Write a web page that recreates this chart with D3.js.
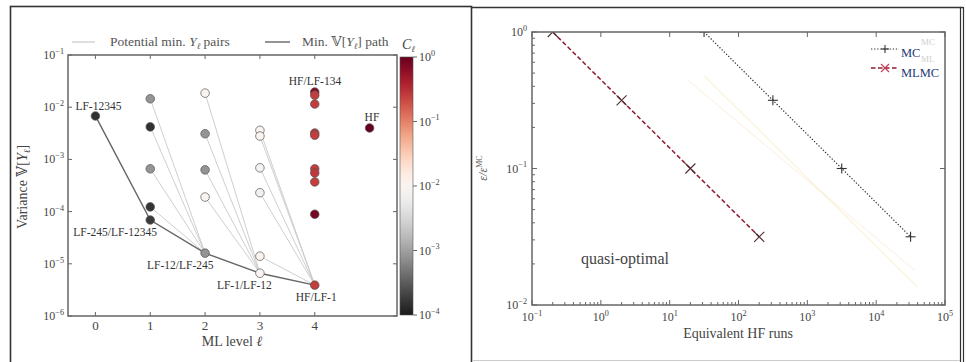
<!DOCTYPE html>
<html>
<head>
<meta charset="utf-8">
<script src="https://cdn.jsdelivr.net/npm/d3@7"></script>
<style>
  html, body { margin: 0; padding: 0; background: #fff; }
  svg, svg text, svg tspan { font-family: 'Liberation Serif', 'DejaVu Serif', serif !important; }
</style>
</head>
<body>
<svg id="chart" width="966" height="362"></svg>
<script>
// ---------- Left panel: ML level selection ----------
const mlLevel    = [0, 1, 1, 1, 1, 1, 2, 2, 2, 2, 2, 3, 3, 3, 3, 3, 3, 4, 4, 4, 4, 4, 4, 4, 4, 4, 4, 5];
const mlVariance = [6.8e-3,
  1.45e-2, 4.2e-3, 6.6e-4, 1.23e-4, 6.9e-5,
  1.86e-2, 3.1e-3, 6.3e-4, 1.9e-4, 1.6e-5,
  3.6e-3, 2.8e-3, 6.9e-4, 2.3e-4, 1.4e-5, 6.6e-6,
  1.95e-2, 1.7e-2, 1.15e-2, 3.2e-3, 2.9e-3, 6.6e-4, 5.5e-4, 3.7e-4, 8.9e-5, 3.9e-6,
  4.0e-3];
const mlCost = [1.5e-4,
  8e-4, 1.5e-4, 8e-4, 1.6e-4, 1.8e-4,
  1.0e-2, 8e-4, 8e-4, 9e-3, 8e-4,
  1.1e-2, 1.0e-2, 8e-3, 7e-3, 1.05e-2, 9.5e-3,
  0.7, 0.25, 0.25, 0.27, 0.25, 0.25, 0.27, 0.25, 0.8, 0.25,
  1.0];
// indices of the minimum-variance path, one per level 0..4
const pathIdx = [0, 5, 10, 16, 26];
const pointLabels = [
  {i: 0,  text: "LF-12345",        dx: -20, dy: -10},
  {i: 5,  text: "LF-245/LF-12345", dx: -77, dy: 12},
  {i: 10, text: "LF-12/LF-245",    dx: -58, dy: 12},
  {i: 16, text: "LF-1/LF-12",      dx: -43, dy: 12},
  {i: 26, text: "HF/LF-1",         dx: -19, dy: 12},
  {i: 17, text: "HF/LF-134",       dx: -26, dy: -11},
  {i: 27, text: "HF",              dx: -5,  dy: -11}
];
const levelTicks = [0, 1, 2, 3, 4];
const varianceTicks = [1e-6, 1e-5, 1e-4, 1e-3, 1e-2, 1e-1];
const costTicks = [1e-4, 1e-3, 1e-2, 1e-1, 1];

// ---------- Right panel: cost vs accuracy ----------
const mcRuns    = [31.6, 316, 3162, 31623];
const mcError   = [1, 0.316, 0.1, 0.0316];
const mlmcRuns  = [0.2, 2, 20, 200];
const mlmcError = [1, 0.316, 0.1, 0.0316];
const fadedA_runs = [31.6, 40000], fadedA_err = [0.48, 0.0135];
const fadedB_runs = [17.8, 36000], fadedB_err = [0.45, 0.018];
const runTicks = [1e-1, 1e0, 1e1, 1e2, 1e3, 1e4, 1e5];
const errTicks = [1e-2, 1e-1, 1e0];

const FONT = "'Liberation Serif', 'DejaVu Serif', serif";
const svg = d3.select("#chart");

function powLabel(sel, x, y, v, anchor, size) {
  const e = Math.round(Math.log10(v));
  const t = sel.append("text").attr("x", x).attr("y", y).style("font-family", FONT)
    .attr("text-anchor", anchor).attr("font-size", size).attr("fill", "#444");
  t.append("tspan").text("10");
  t.append("tspan").attr("dy", -size * 0.42).attr("font-size", size * 0.68)
    .text(e < 0 ? "−" + (-e) : String(e));
  return t;
}

// panel frames
svg.append("rect").attr("x", 10.5).attr("y", 6.5).attr("width", 461).attr("height", 370)
  .attr("fill", "none").attr("stroke", "#333").attr("stroke-width", 1.6);
svg.append("line").attr("x1", 472).attr("x2", 963).attr("y1", 7.5).attr("y2", 7.5)
  .attr("stroke", "#333").attr("stroke-width", 1.6);
svg.append("line").attr("x1", 960.5).attr("x2", 960.5).attr("y1", 7).attr("y2", 362)
  .attr("stroke", "#333").attr("stroke-width", 1.2);
svg.append("line").attr("x1", 963.5).attr("x2", 963.5).attr("y1", 7).attr("y2", 362)
  .attr("stroke", "#333").attr("stroke-width", 1.2);
svg.append("line").attr("x1", 472).attr("x2", 960).attr("y1", 360.5).attr("y2", 360.5)
  .attr("stroke", "#ccc").attr("stroke-width", 1);

// ===== Left panel =====
const L = svg.append("g");
const lx = d3.scaleLinear().domain([-0.5, 5.5]).range([68, 397]);
const ly = d3.scaleLog().domain([1e-6, 1e-1]).range([316, 55]);
const cScale = d3.scaleLog().domain([1e-4, 1]).range([0, 1]).clamp(true);
const cmap = c => d3.interpolateRdGy(1 - cScale(c));

// faint candidate pair lines: every point of level l to the path point of level l+1
const pairs = [];
mlLevel.forEach((lv, i) => {
  if (lv >= 1 && lv <= 3 && !pathIdx.includes(i)) pairs.push([i, pathIdx[lv + 1]]);
});
L.append("g").selectAll("line").data(pairs).join("line")
  .attr("x1", d => lx(mlLevel[d[0]])).attr("y1", d => ly(mlVariance[d[0]]))
  .attr("x2", d => lx(mlLevel[d[1]])).attr("y2", d => ly(mlVariance[d[1]]))
  .attr("stroke", "#c8c8c8").attr("stroke-width", 0.9);

// minimum variance path
L.append("path")
  .datum(pathIdx)
  .attr("d", d3.line().x(i => lx(mlLevel[i])).y(i => ly(mlVariance[i])))
  .attr("fill", "none").attr("stroke", "#666").attr("stroke-width", 1.4);

// points
L.append("g").selectAll("circle").data(d3.range(mlLevel.length)).join("circle")
  .attr("cx", i => lx(mlLevel[i])).attr("cy", i => ly(mlVariance[i]))
  .attr("r", 4.3)
  .attr("fill", i => cmap(mlCost[i]))
  .attr("stroke", "#555").attr("stroke-width", 0.7);

// point labels
L.append("g").selectAll("text").data(pointLabels).join("text")
  .attr("x", d => lx(mlLevel[d.i]) + d.dx)
  .attr("y", d => ly(mlVariance[d.i]) + d.dy)
  .attr("dy", "0.35em")
  .style("font-family", FONT)
  .attr("font-size", 11.5).attr("fill", "#333")
  .text(d => d.text);

// plot box
L.append("rect").attr("x", 68).attr("y", 55).attr("width", 329).attr("height", 261)
  .attr("fill", "none").attr("stroke", "#666").attr("stroke-width", 1.5);

// ticks
const LT = L.append("g").attr("stroke", "#666").attr("stroke-width", 1);
varianceTicks.forEach(v => {
  LT.append("line").attr("x1", 68).attr("x2", 72).attr("y1", ly(v)).attr("y2", ly(v));
  LT.append("line").attr("x1", 393).attr("x2", 397).attr("y1", ly(v)).attr("y2", ly(v));
});
levelTicks.forEach(v => {
  LT.append("line").attr("x1", lx(v)).attr("x2", lx(v)).attr("y1", 316).attr("y2", 312);
  LT.append("line").attr("x1", lx(v)).attr("x2", lx(v)).attr("y1", 55).attr("y2", 59);
});
varianceTicks.forEach(v => powLabel(L, 64, ly(v) + 4, v, "end", 12));
L.append("g").selectAll("text").data(levelTicks).join("text")
  .attr("x", d => lx(d)).attr("y", 330).attr("text-anchor", "middle")
  .style("font-family", FONT)
  .attr("font-size", 13).attr("fill", "#444").text(d => d);

// axis titles
L.append("text").attr("x", 232).attr("y", 346).attr("text-anchor", "middle")
  .style("font-family", FONT)
  .attr("font-size", 14).attr("fill", "#444")
  .html('ML level <tspan font-style="italic">ℓ</tspan>');
const yt = L.append("text").attr("transform", "translate(27,187) rotate(-90)")
  .style("font-family", FONT)
  .attr("text-anchor", "middle").attr("font-size", 14).attr("fill", "#444");
yt.append("tspan").text("Variance 𝕍[");
yt.append("tspan").attr("font-style", "italic").text("Y");
yt.append("tspan").attr("font-size", 9).attr("dy", 3).attr("font-style", "italic").text("ℓ");
yt.append("tspan").attr("dy", -3).text("]");

// legend
L.append("line").attr("x1", 72).attr("x2", 95).attr("y1", 42).attr("y2", 42)
  .attr("stroke", "#c8c8c8").attr("stroke-width", 1.2);
const lg1 = L.append("text").attr("x", 110).attr("y", 46).style("font-family", FONT)
  .attr("font-size", 13.5).attr("fill", "#555");
lg1.append("tspan").text("Potential min. ");
lg1.append("tspan").attr("font-style", "italic").text("Y");
lg1.append("tspan").attr("font-size", 8.5).attr("dy", 3).attr("font-style", "italic").text("ℓ");
lg1.append("tspan").attr("dy", -3).text(" pairs");
L.append("line").attr("x1", 265).attr("x2", 290).attr("y1", 42).attr("y2", 42)
  .attr("stroke", "#666").attr("stroke-width", 1.4);
const lg2 = L.append("text").attr("x", 302).attr("y", 46).style("font-family", FONT)
  .attr("font-size", 13.5).attr("fill", "#555");
lg2.append("tspan").text("Min. 𝕍[");
lg2.append("tspan").attr("font-style", "italic").text("Y");
lg2.append("tspan").attr("font-size", 8.5).attr("dy", 3).attr("font-style", "italic").text("ℓ");
lg2.append("tspan").attr("dy", -3).text("] path");

// colorbar
const defs = svg.append("defs");
const grad = defs.append("linearGradient").attr("id", "cbar")
  .attr("x1", 0).attr("y1", 1).attr("x2", 0).attr("y2", 0);
d3.range(0, 1.0001, 0.05).forEach(t => {
  grad.append("stop").attr("offset", t).attr("stop-color", d3.interpolateRdGy(1 - t));
});
const cy = d3.scaleLog().domain([1e-4, 1]).range([315, 57]);
L.append("rect").attr("x", 400).attr("y", 57).attr("width", 13).attr("height", 258)
  .attr("fill", "url(#cbar)").attr("stroke", "#555").attr("stroke-width", 0.6);
costTicks.forEach(v => {
  L.append("line").attr("x1", 413).attr("x2", 417).attr("y1", cy(v)).attr("y2", cy(v))
    .attr("stroke", "#666");
  powLabel(L, 419, cy(v) + 4, v, "start", 12);
});
const ct = L.append("text").attr("x", 402).attr("y", 49).style("font-family", FONT)
  .attr("font-size", 14).attr("fill", "#444");
ct.append("tspan").attr("font-style", "italic").text("C");
ct.append("tspan").attr("font-size", 8.5).attr("dy", 3).attr("font-style", "italic").text("ℓ");

// ===== Right panel =====
const R = svg.append("g");
const rx = d3.scaleLog().domain([0.1, 1e5]).range([532, 945]);
const ry = d3.scaleLog().domain([0.01, 1]).range([305, 32]);
defs.append("clipPath").attr("id", "rclip").append("rect")
  .attr("x", 532).attr("y", 32).attr("width", 413).attr("height", 273);

const plot = R.append("g").attr("clip-path", "url(#rclip)");
const rline = d3.line().x(d => rx(d[0])).y(d => ry(d[1]));

// faded series
plot.append("path").datum(d3.zip(fadedA_runs, fadedA_err)).attr("d", rline)
  .attr("fill", "none").attr("stroke", "#f1dc8a").attr("stroke-width", 1.4).attr("opacity", 0.3);
plot.append("path").datum(d3.zip(fadedB_runs, fadedB_err)).attr("d", rline)
  .attr("fill", "none").attr("stroke", "#f7d7b5").attr("stroke-width", 1.4).attr("opacity", 0.25);

// MC
plot.append("path").datum(d3.zip(mcRuns, mcError)).attr("d", rline)
  .attr("fill", "none").attr("stroke", "#333").attr("stroke-width", 1.2)
  .attr("stroke-dasharray", "1.3,1.8");
const plus = (g, x, y, s, col) => {
  g.append("line").attr("x1", x - s).attr("x2", x + s).attr("y1", y).attr("y2", y).attr("stroke", col).attr("stroke-width", 1.1);
  g.append("line").attr("x1", x).attr("x2", x).attr("y1", y - s).attr("y2", y + s).attr("stroke", col).attr("stroke-width", 1.1);
};
const cross = (g, x, y, s, col) => {
  g.append("line").attr("x1", x - s).attr("x2", x + s).attr("y1", y - s).attr("y2", y + s).attr("stroke", col).attr("stroke-width", 1.1);
  g.append("line").attr("x1", x - s).attr("x2", x + s).attr("y1", y + s).attr("y2", y - s).attr("stroke", col).attr("stroke-width", 1.1);
};
mcRuns.forEach((r, i) => plus(plot, rx(r), ry(mcError[i]), 5, "#333"));

// MLMC
plot.append("path").datum(d3.zip(mlmcRuns, mlmcError)).attr("d", rline)
  .attr("fill", "none").attr("stroke", "#8e1b30").attr("stroke-width", 1.5)
  .attr("stroke-dasharray", "4.5,2.5");
mlmcRuns.forEach((r, i) => cross(plot, rx(r), ry(mlmcError[i]), 5, "#4a2a30"));

// box & ticks
R.append("rect").attr("x", 532).attr("y", 32).attr("width", 413).attr("height", 273)
  .attr("fill", "none").attr("stroke", "#666").attr("stroke-width", 1.5);
const RT = R.append("g").attr("stroke", "#666").attr("stroke-width", 1);
runTicks.forEach((v, k) => {
  RT.append("line").attr("x1", rx(v)).attr("x2", rx(v)).attr("y1", 305).attr("y2", 300);
  RT.append("line").attr("x1", rx(v)).attr("x2", rx(v)).attr("y1", 32).attr("y2", 37);
  if (k < runTicks.length - 1) d3.range(2, 10).forEach(m => {
    const x = rx(v * m);
    RT.append("line").attr("x1", x).attr("x2", x).attr("y1", 305).attr("y2", 302);
  });
});
errTicks.forEach((v, k) => {
  RT.append("line").attr("x1", 532).attr("x2", 537).attr("y1", ry(v)).attr("y2", ry(v));
  RT.append("line").attr("x1", 940).attr("x2", 945).attr("y1", ry(v)).attr("y2", ry(v));
  if (k < errTicks.length - 1) d3.range(2, 10).forEach(m => {
    const y = ry(v * m);
    RT.append("line").attr("x1", 532).attr("x2", 535).attr("y1", y).attr("y2", y);
  });
});
runTicks.forEach(v => powLabel(R, rx(v), 321, v, "middle", 12));
errTicks.forEach(v => powLabel(R, 527, ry(v) + 4, v, "end", 12));

R.append("text").attr("x", 738).attr("y", 338).attr("text-anchor", "middle")
  .style("font-family", FONT)
  .attr("font-size", 14).attr("fill", "#444").text("Equivalent HF runs");
const ryt = R.append("text").attr("transform", "translate(487,168) rotate(-90)")
  .style("font-family", FONT)
  .attr("text-anchor", "middle").attr("font-size", 12).attr("fill", "#555");
ryt.append("tspan").attr("font-style", "italic").text("ε/ε");
ryt.append("tspan").attr("font-size", 8).attr("dy", -5).text("MC");
R.append("text").attr("x", 625).attr("y", 264).attr("text-anchor", "middle")
  .style("font-family", FONT)
  .attr("font-size", 16).attr("fill", "#444").text("quasi-optimal");

// legend (faded original entry names sit behind the current ones)
R.append("text").attr("x", 921).attr("y", 45).style("font-family", FONT)
  .attr("font-size", 9).attr("fill", "#cfcfcf").text("MC");
R.append("text").attr("x", 921).attr("y", 62).style("font-family", FONT)
  .attr("font-size", 9).attr("fill", "#cfcfcf").text("ML");
R.append("line").attr("x1", 871).attr("x2", 899).attr("y1", 49).attr("y2", 49)
  .attr("stroke", "#333").attr("stroke-width", 1.2).attr("stroke-dasharray", "1.3,1.8");
plus(R, 885, 49, 4, "#333");
R.append("line").attr("x1", 871).attr("x2", 899).attr("y1", 68).attr("y2", 68)
  .attr("stroke", "#8e1b30").attr("stroke-width", 1.5).attr("stroke-dasharray", "4.5,2.5");
cross(R, 885, 68, 4, "#c23a55");
R.append("text").attr("x", 901).attr("y", 57).style("font-family", FONT)
  .attr("font-size", 12.5).attr("fill", "#1c3a7a").text("MC");
R.append("text").attr("x", 901).attr("y", 77).style("font-family", FONT)
  .attr("font-size", 12.5).attr("fill", "#1c3a7a").text("MLMC");
</script>
</body>
</html>
